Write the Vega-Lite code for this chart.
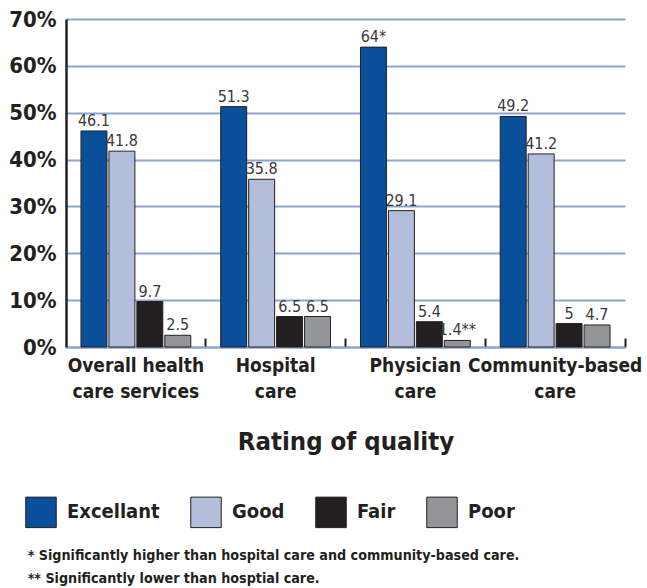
{
  "$schema": "https://vega.github.io/schema/vega-lite/v6.json",
  "width": 559,
  "height": 328,
  "padding": {"left": 8, "top": 8, "right": 10, "bottom": 5},
  "background": "white",
  "config": {
    "font": "Liberation Sans Narrow, DejaVu Sans Condensed, Roboto, sans-serif",
    "view": {"stroke": null}
  },
  "data": {
    "values": [
      {"category": "Overall health care services", "rating": "Excellant", "value": 46.1, "label": "46.1"},
      {"category": "Overall health care services", "rating": "Good", "value": 41.8, "label": "41.8"},
      {"category": "Overall health care services", "rating": "Fair", "value": 9.7, "label": "9.7"},
      {"category": "Overall health care services", "rating": "Poor", "value": 2.5, "label": "2.5"},
      {"category": "Hospital care", "rating": "Excellant", "value": 51.3, "label": "51.3"},
      {"category": "Hospital care", "rating": "Good", "value": 35.8, "label": "35.8"},
      {"category": "Hospital care", "rating": "Fair", "value": 6.5, "label": "6.5"},
      {"category": "Hospital care", "rating": "Poor", "value": 6.5, "label": "6.5"},
      {"category": "Physician care", "rating": "Excellant", "value": 64, "label": "64*"},
      {"category": "Physician care", "rating": "Good", "value": 29.1, "label": "29.1"},
      {"category": "Physician care", "rating": "Fair", "value": 5.4, "label": "5.4"},
      {"category": "Physician care", "rating": "Poor", "value": 1.4, "label": "1.4**"},
      {"category": "Community-based care", "rating": "Excellant", "value": 49.2, "label": "49.2"},
      {"category": "Community-based care", "rating": "Good", "value": 41.2, "label": "41.2"},
      {"category": "Community-based care", "rating": "Fair", "value": 5, "label": "5"},
      {"category": "Community-based care", "rating": "Poor", "value": 4.7, "label": "4.7"}
    ]
  },
  "title": {
    "text": ["* Significantly higher than hospital care and community-based care.", "** Significantly lower than hosptial care."],
    "orient": "bottom",
    "anchor": "start",
    "frame": "bounds",
    "dx": 19,
    "fontSize": 14.2,
    "fontWeight": "bold",
    "color": "#231f20",
    "lineHeight": 23,
    "offset": 19
  },
  "encoding": {
    "x": {
      "field": "category",
      "type": "nominal",
      "sort": ["Overall health care services", "Hospital care", "Physician care", "Community-based care"],
      "scale": {"paddingInner": 0, "paddingOuter": 0},
      "axis": {
        "title": "Rating of quality",
        "titleFontSize": 25.5,
        "titleFontWeight": "bold",
        "titleColor": "#231f20",
        "titlePadding": 28,
        "labelAngle": 0,
        "labelFontSize": 19,
        "labelFontWeight": 600,
        "labelColor": "#231f20",
        "labelLineHeight": 26,
        "labelOverlap": false,
        "labelBound": false,
        "labelPadding": 18,
        "labelExpr": "datum.value == 'Overall health care services' ? ['Overall health','care services'] : datum.value == 'Hospital care' ? ['Hospital','care'] : datum.value == 'Physician care' ? ['Physician','care'] : ['Community-based','care']",
        "bandPosition": 1,
        "tickSize": -9,
        "tickColor": "#231f20",
        "tickWidth": 2,
        "domainColor": "#8fa3d0",
        "domainWidth": 2
      }
    },
    "xOffset": {
      "field": "rating",
      "sort": ["Excellant", "Good", "Fair", "Poor"],
      "scale": {"paddingInner": 0.0714, "paddingOuter": 0.536}
    },
    "y": {
      "field": "value",
      "type": "quantitative",
      "scale": {"domain": [0, 70]},
      "axis": {
        "title": null,
        "values": [0, 10, 20, 30, 40, 50, 60, 70],
        "labelExpr": "datum.value + '%'",
        "labelFontSize": 22,
        "labelFontWeight": "bold",
        "labelColor": "#231f20",
        "labelPadding": 10,
        "ticks": false,
        "domainColor": "#231f20",
        "domainWidth": 2.5,
        "gridColor": "#8fa3d0",
        "gridWidth": 2,
        "gridOpacity": 1
      }
    }
  },
  "layer": [
    {
      "mark": {"type": "bar", "stroke": "#231f20", "strokeWidth": 1},
      "encoding": {
        "color": {
          "field": "rating",
          "type": "nominal",
          "sort": ["Excellant", "Good", "Fair", "Poor"],
          "scale": {"domain": ["Excellant", "Good", "Fair", "Poor"], "range": ["#0a4f9a", "#b3bedc", "#231f20", "#939598"]},
          "legend": {
            "title": null,
            "orient": "none",
            "legendX": -41,
            "legendY": 477,
            "direction": "horizontal",
            "symbolType": "square",
            "symbolSize": 930,
            "symbolStrokeColor": "#231f20",
            "symbolStrokeWidth": 1,
            "symbolOpacity": 1,
            "labelFontSize": 20,
            "labelFontWeight": 600,
            "labelColor": "#231f20",
            "labelOffset": 10,
            "columnPadding": 28
          }
        }
      }
    },
    {
      "mark": {"type": "text", "baseline": "bottom", "dy": -2, "fontSize": 16, "color": "#3a3a3a"},
      "encoding": {"text": {"field": "label"}}
    }
  ]
}
